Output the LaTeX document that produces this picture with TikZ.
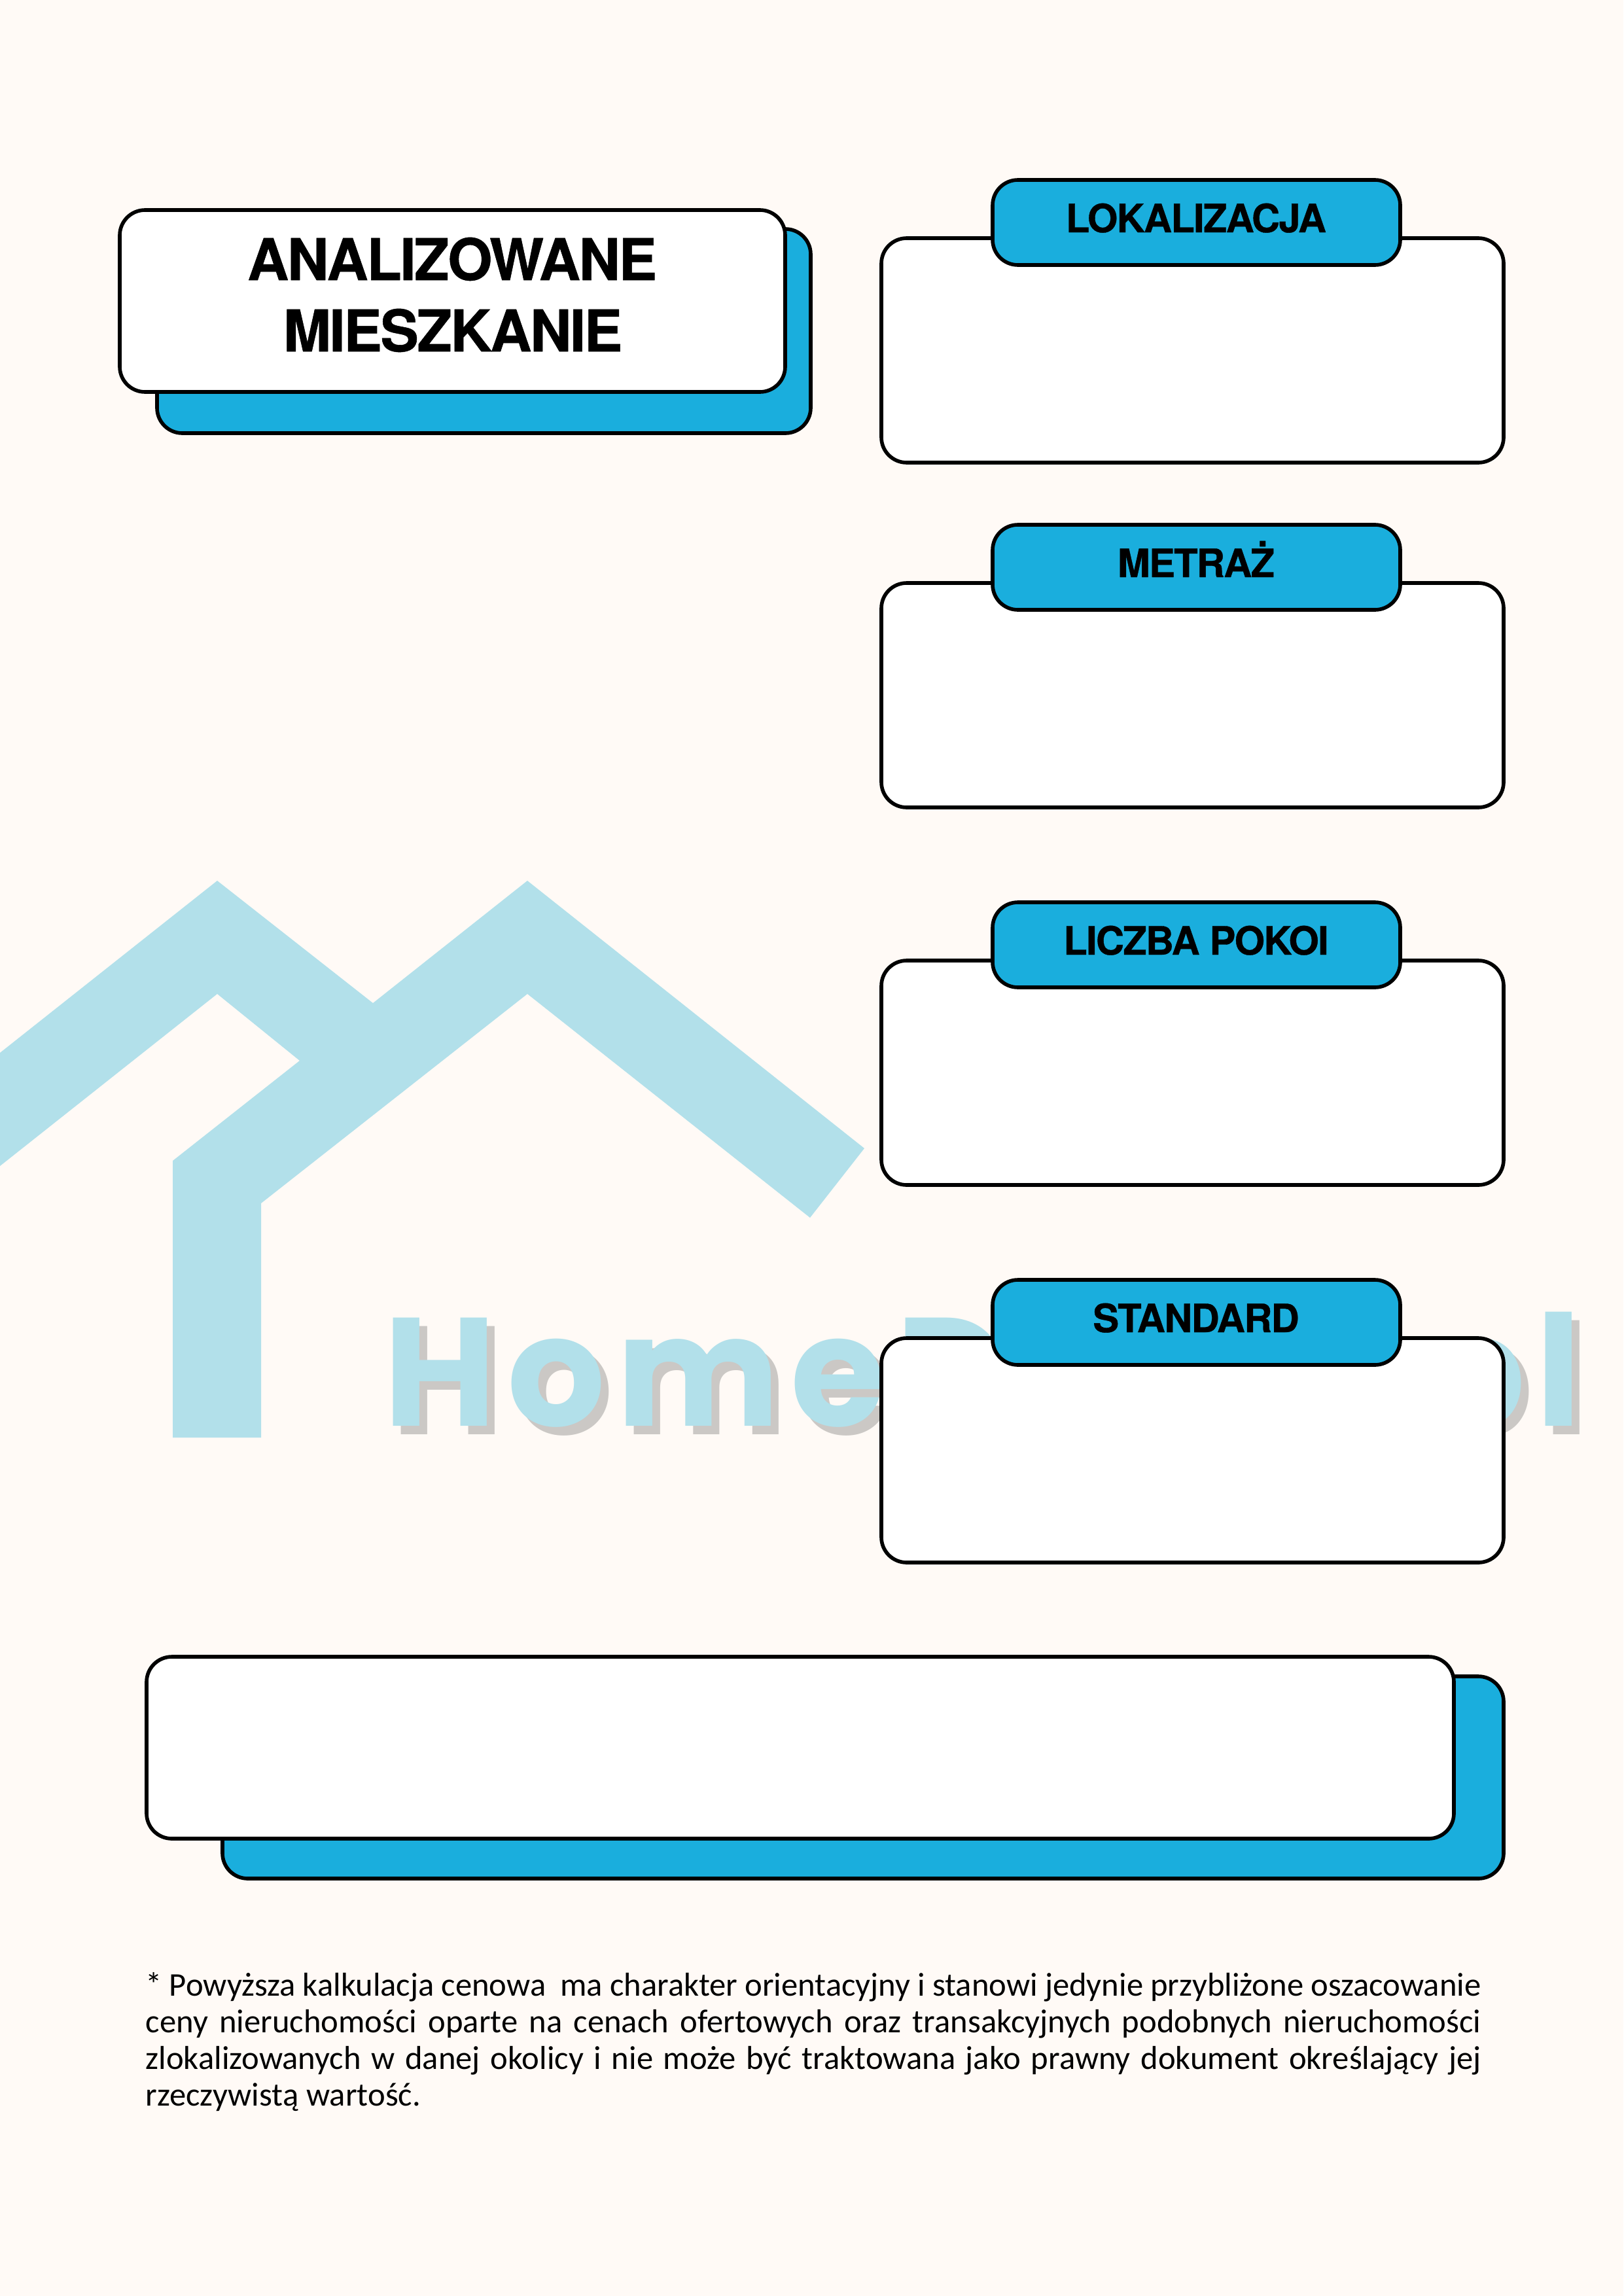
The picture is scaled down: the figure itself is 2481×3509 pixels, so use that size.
\documentclass[tikz,border=0pt]{standalone}
\usepackage{fontspec}
\setmainfont{TeX Gyre Heros}
\newfontfamily\headfont[LetterSpace=-3,BoldFeatures={FakeBold=0.6}]{TeX Gyre Heros}
\newfontfamily\bodyfont{Carlito}
\newfontfamily\markfont[LetterSpace=7]{Poppins}
\definecolor{pagebg}{HTML}{FFFAF6}
\definecolor{accent}{HTML}{1AAEDD}
\definecolor{wm}{HTML}{B2E0EA}
\definecolor{wmshadow}{HTML}{CBC8C5}
\tikzset{
  card/.style={draw=black,line width=1.6pt,rounded corners=11pt},
  title/.style={anchor=base,inner sep=0pt,font=\headfont\bfseries\fontsize{25}{30}\selectfont},
  labeltext/.style={anchor=base,inner sep=0pt,font=\headfont\bfseries\fontsize{17}{21}\selectfont},
  wmtext/.style={inner sep=0pt,font=\markfont\bfseries\fontsize{67}{80}\selectfont}
}
\begin{document}
\begin{tikzpicture}[x=0.01cm,y=-0.01cm]
\useasboundingbox (0,0) rectangle (2481,3509);
\fill[pagebg] (0,0) rectangle (2481,3509);
% watermark
\fill[wm] (0,1609) -- (332,1346) -- (570,1533) -- (806,1346) -- (1321,1755) -- (1238,1861) -- (806,1519) -- (399,1839) -- (399,2197) -- (264,2197) -- (264,1774) -- (458,1621) -- (332,1519) -- (0,1782) -- cycle;
\node[wmtext,anchor=base west,text=wmshadow] (homeshadow) at (598,2192) {HomeD};
\node[wmtext,anchor=base east,text=wmshadow] (plshadow) at (2430,2192) {pl};
\node[wmtext,anchor=base west,text=wm] (home) at (586,2179) {HomeD};
\node[wmtext,anchor=base east,text=wm] (pl) at (2418,2179) {pl};
% title card
\path[card,fill=accent] (240,350) rectangle (1239,662);
\path[card,fill=white] (183,321) rectangle (1200,599);
\node[title] (t1) at (691,428) {ANALIZOWANE};
\node[title] (t2) at (692,537) {MIESZKANIE};
% right cards
\foreach \d/\txt in {0/LOKALIZACJA,527/METRAŻ,1104/LICZBA POKOI,1681/STANDARD}{
  \path[card,fill=white] (1347,364+\d) rectangle (2298,707+\d);
  \path[card,fill=accent] (1517,275+\d) rectangle (2140,405+\d);
  \node[labeltext] at (1828,355+\d) {\txt};
}
% bottom card
\path[card,fill=accent] (340,2562) rectangle (2298,2871);
\path[card,fill=white] (224,2532) rectangle (2222,2810);
% note
\node[anchor=base west,inner sep=0pt] (note) at (222,3050) {\parbox[t]{580.4pt}{\bodyfont\fontsize{14.4}{16}\selectfont
* Powyższa kalkulacja cenowa\ \ ma charakter orientacyjny i stanowi jedynie przybliżone oszacowanie\linebreak
ceny nieruchomości oparte na cenach ofertowych oraz transakcyjnych podobnych nieruchomości\linebreak
zlokalizowanych w danej okolicy i nie może być traktowana jako prawny dokument określający jej\linebreak
rzeczywistą wartość.}};
\end{tikzpicture}
\end{document}
